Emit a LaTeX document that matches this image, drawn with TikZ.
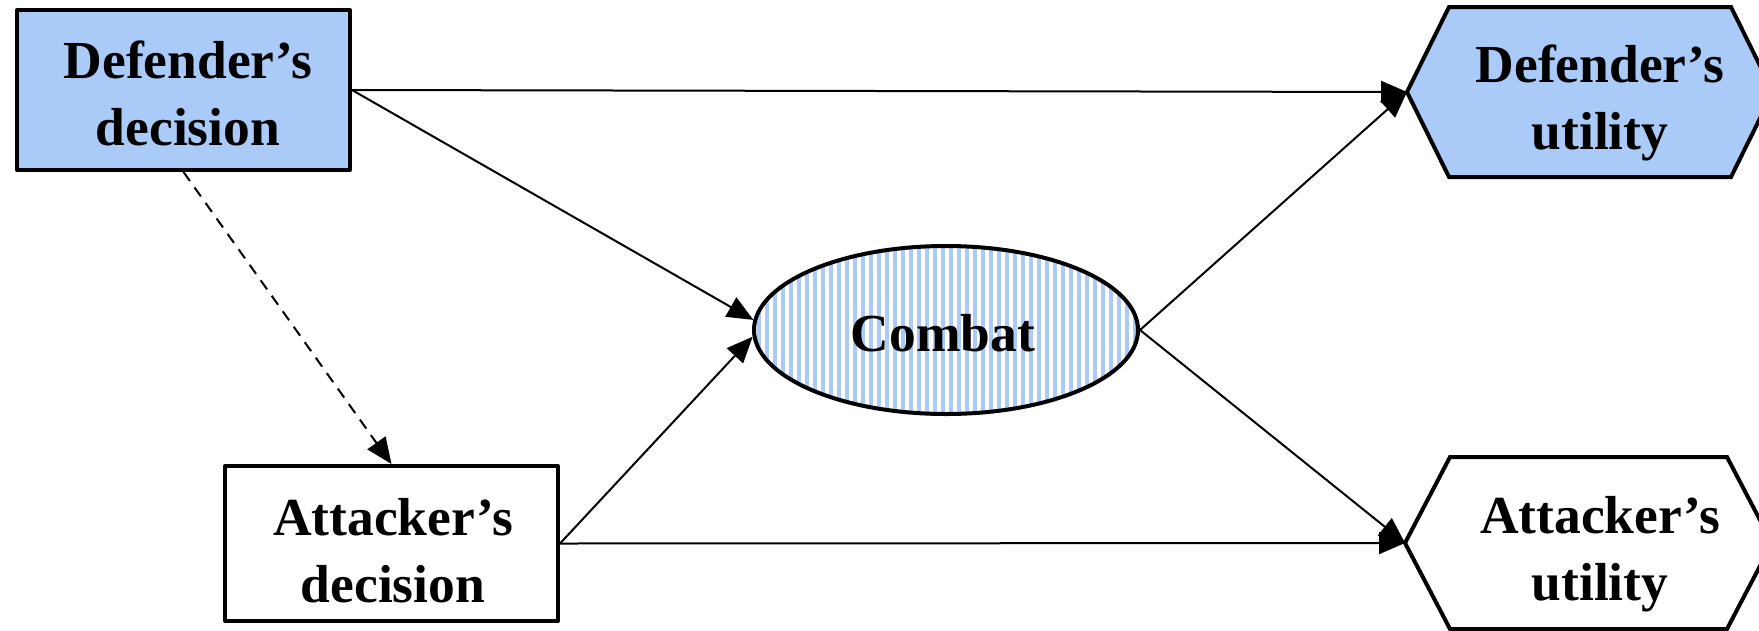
\documentclass[tikz,border=0pt]{standalone}
\usepackage{fontspec}
\setmainfont{Liberation Serif}
\usetikzlibrary{arrows.meta,shapes.geometric}
\definecolor{nodeblue}{RGB}{170,203,248}
\begin{document}
\begin{tikzpicture}[x=1pt,y=-1pt,
  every node/.style={inner sep=0pt},
  label text/.style={font=\fontsize{53.5}{67}\selectfont\bfseries, align=center},
  decbox/.style={draw, rectangle, line width=4pt, line join=round},
  hexline/.style={draw, line width=4pt, line join=miter},
  link/.style={line width=2pt, -{Triangle[length=26pt,width=22pt]}},
  guess/.style={link, dash pattern=on 11pt off 8pt}]
\useasboundingbox (0,0) rectangle (1759,630);
\clip (0,0) rectangle (1759,630);

% decision nodes
\node[decbox, fill=nodeblue, minimum width=333pt, minimum height=160pt] (dd) at (183.5,90) {};
\node[label text] (ddt) at (188,93) {Defender’s\\decision};
\node[decbox, fill=white, minimum width=333pt, minimum height=155pt] (ad) at (391.5,543.5) {};
\node[label text] (adt) at (393,551) {Attacker’s\\decision};

% chance node with vertical stripes
\begin{scope}
  \clip (946,330) ellipse [x radius=192, y radius=84];
  \foreach \i in {0,...,49}
    \fill[nodeblue] ({748.7+\i*8},240) rectangle ++(4,180);
\end{scope}
\node[draw, ellipse, line width=4pt, minimum width=384pt, minimum height=168pt] (cb) at (946,330) {};
\node[label text] (cbt) at (943,333) {Combat};

% utility nodes
\draw[hexline, fill=nodeblue] (1407,92) -- (1449,7) -- (1731,7) -- (1773,92) -- (1731,177) -- (1449,177) -- cycle;
\node[label text] (du) at (1600,103) {Defender’s\\utility};
\coordinate (duL) at (1407,92);

\draw[hexline, fill=white] (1405,543) -- (1450,457) -- (1727,457) -- (1772,543) -- (1727,629) -- (1450,629) -- cycle;
\node[label text] (au) at (1600,554) {Attacker’s\\utility};
\coordinate (auL) at (1405,543);

% influence arcs
\draw[link] (dd.east) -- (duL);
\draw[link] (dd.east) -- (cb.177);
\draw[guess] (dd.south) -- (ad.north);
\draw[link] (ad.east) -- (cb.182);
\draw[link] (ad.east) -- (auL);
\draw[link] (cb.east) -- (duL);
\draw[link] (cb.east) -- (auL);
\end{tikzpicture}
\end{document}
